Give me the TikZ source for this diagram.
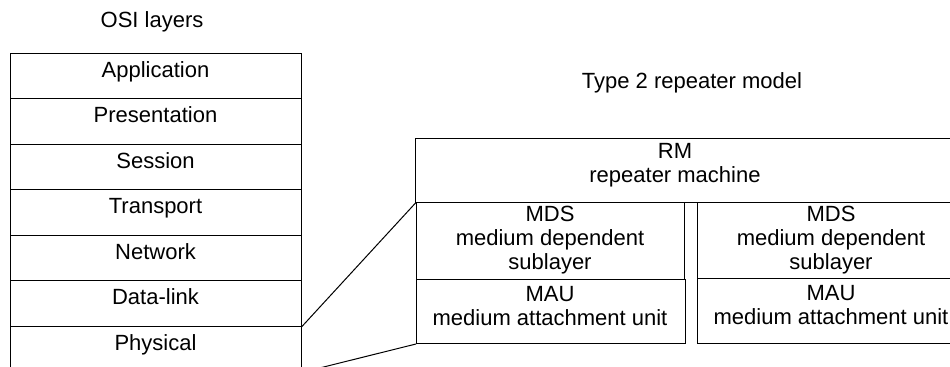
\documentclass[tikz,border=0pt]{standalone}
\usepackage{fontspec}
\setmainfont{Liberation Sans}
\tikzset{layer/.style={draw, anchor=north, minimum width=145.5pt, inner sep=0pt, text height=12pt, text depth=10.75pt}}
\tikzset{blk/.style={draw, anchor=north west, inner sep=0pt}}
\tikzset{lbl/.style={align=center, inner sep=0pt}}

\begin{document}
\begin{tikzpicture}[x=0.5pt, y=-0.5pt, line width=0.5pt, font=\fontsize{11}{12}\selectfont]
\useasboundingbox (0,0) rectangle (950,367);
\clip (0,0) rectangle (950,367);

% OSI stack
\node (osi) at (152,22) {OSI layers};
\foreach \name [count=\i from 0] in {Application,Presentation,Session,Transport,Network,Data-link,Physical}
  \node[layer] (l\i) at (155.5,{53+45.5*\i}) {\name};

% repeater
\node (rep) at (692,83) {Type 2 repeater model};
\node[blk, minimum width=287.5pt, minimum height=32.25pt] (rm) at (415,138) {};
\node[blk, minimum width=134pt, minimum height=38.25pt] (mdsA) at (416,202.5) {};
\node[blk, minimum width=134.5pt, minimum height=32pt] (mauA) at (416,279) {};
\node[blk, minimum width=134pt, minimum height=37.75pt] (mdsB) at (697,202.5) {};
\node[blk, minimum width=134pt, minimum height=32.5pt] (mauB) at (697,278) {};

\node[lbl] (rmt) at (675,165) {RM\\repeater machine};
\node[lbl] (mdsAt) at (550,240.5) {MDS\\medium dependent\\sublayer};
\node[lbl] (mauAt) at (550,306.5) {MAU\\medium attachment unit};
\node[lbl] (mdsBt) at (831,240) {MDS\\medium dependent\\sublayer};
\node[lbl] (mauBt) at (831,305) {MAU\\medium attachment unit};

% physical layer opened up
\draw (l5.south east) -- (mdsA.north west);
\draw (l6.south east) -- (mauA.south west);
\end{tikzpicture}
\end{document}
